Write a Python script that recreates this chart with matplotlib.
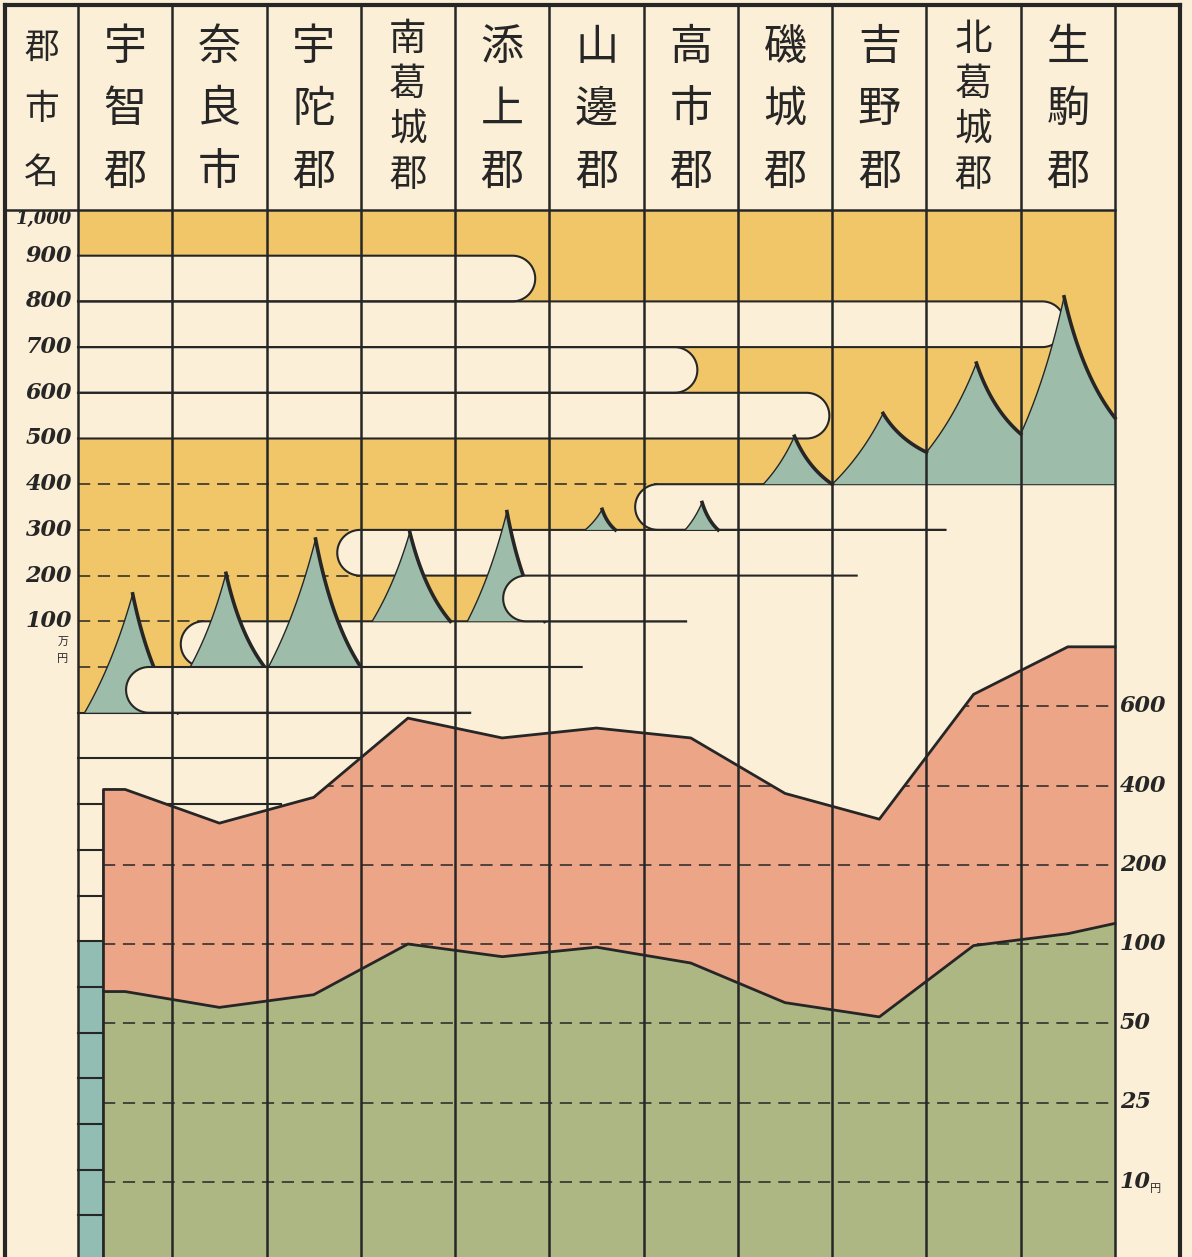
import numpy as np
import matplotlib.pyplot as plt
from matplotlib.patches import Rectangle, Polygon

plt.rcParams['font.family'] = ['Noto Sans CJK JP', 'DejaVu Sans']

# ---------------- data ----------------
header_title = '郡市名'
names = ['宇智郡', '奈良市', '宇陀郡', '南葛城郡', '添上郡', '山邊郡',
         '高市郡', '磯城郡', '吉野郡', '北葛城郡', '生駒郡']

# upper part, in 万円: mountain peaks, their base line, and valley heights at the feet
peak_val = [160, 205, 280, 295, 340, 345, 360, 505, 555, 665, 810]
base_val = [-100, 0, 0, 100, 100, 300, 300, 400, 400, 400, 400]
left_val = [-100, 0, 0, 100, 100, 300, 300, 400, 400, 470, 510]
right_val = [-100, 0, 0, 100, 100, 300, 300, 400, 470, 510, 545]
left_ticks = [1000, 900, 800, 700, 600, 500, 400, 300, 200, 100]
left_labels = ['1,000', '900', '800', '700', '600', '500', '400', '300', '200', '100']

# lower part, in 円
upper_val = [390, 305, 370, 570, 520, 545, 520, 380, 315, 630, 750]
lower_val = [70, 60, 68, 100, 92, 98, 88, 63, 54, 99, 113]
lower_end = 126
right_ticks = [600, 400, 200, 100, 50, 25, 10]
right_labels = ['600', '400', '200', '100', '50', '25', '10']

# ---------------- layout (shapes) ----------------
# white bands with a rounded right end: top level, right end (column units)
up_band_top = [900, 800, 700, 600]
up_band_end = [4.85, 10.47, 6.57, 7.97]
# white bands with a rounded left end
lo_band_top = [400, 300, 200, 100, 0]
lo_band_start = [5.91, 2.75, 4.51, 1.09, 0.51]
lo_band_top_end = [11, 9.2, 8.26, 6.45, 5.34]
lo_band_bot_end = [9.2, 4.51, 6.45, 5.34, 4.16]
lo_band_front = [False, False, True, False, True]
extra_lines = [-100, -200, -300]
extra_ends = [4.16, 3.0, 2.15]
# mountain foot / peak positions inside each column
m_xl = [0.07, 0.19, 0.02, 0.12, 0.13, 0.38, 0.44, 0.27, 0.0, 0.0, 0.0]
m_xp = [0.58, 0.57, 0.52, 0.52, 0.55, 0.56, 0.62, 0.60, 0.54, 0.53, 0.46]
m_xr = [1.06, 0.98, 1.0, 0.95, 0.95, 0.70, 0.79, 1.0, 1.0, 1.0, 1.0]
strip_w = 0.27

cream = '#fcefd7'
yellow = '#f1c669'
mount = '#9dbca9'
pink = '#eda587'
green = '#adb784'
teal = '#92bdb2'
ink = '#262626'
num_font = dict(family='DejaVu Serif', style='italic', weight='bold', color=ink)

W, H = 1192, 1257
L, R = 5, 1180
col_w = (1115 - 78) / 11
xlim = ((L - 78) / col_w, (R - 78) / col_w)
unit_px = 0.457
top_lo = 1000 - (H - 210) / unit_px
rx = 50 * unit_px / col_w

fig = plt.figure(figsize=(W / 100, H / 100), dpi=100)
fig.patch.set_facecolor(cream)


def add_ax(top_px, bot_px, z):
    a = fig.add_axes([L / W, 1 - bot_px / H, (R - L) / W, (bot_px - top_px) / H], zorder=z)
    a.set_xlim(*xlim)
    a.axis('off')
    a.patch.set_visible(False)
    return a


def bez(p0, c, p2, n=40):
    t = np.linspace(0, 1, n)[:, None]
    pts = (1 - t) ** 2 * np.array(p0) + 2 * (1 - t) * t * np.array(c) + t ** 2 * np.array(p2)
    return pts[:, 0], pts[:, 1]


def arc(cx, cy, a0, a1, n=40):
    a = np.radians(np.linspace(a0, a1, n))
    return cx + rx * np.cos(a), cy + 50 * np.sin(a)


# ---------------- upper panel ----------------
ax = add_ax(210, H, 1)
ax.set_ylim(top_lo, 1000)

ax.add_patch(Rectangle((0, 400), 11, 600, fc=yellow, ec='none', zorder=1))
for t, xs in zip(lo_band_top, lo_band_start):
    ax.add_patch(Rectangle((0, t - 100), xs + rx, 100, fc=yellow, ec='none', zorder=1))

# dashed grid inside the yellow
for lvl in lo_band_top:
    ends = [xs for t, xs in zip(lo_band_top, lo_band_start) if t == lvl or t - 100 == lvl]
    ax.plot([0, min(ends) + rx], [lvl, lvl], color=ink, lw=1.1, dashes=(8, 5), zorder=2)

for t, xe in zip(up_band_top, up_band_end):
    axx, ayy = arc(xe - rx, t - 50, 90, -90)
    ox = np.r_[0, axx, 0]
    oy = np.r_[t, ayy, t - 100]
    ax.fill(ox, oy, color=cream, lw=0, zorder=3)
    ax.plot(ox, oy, color=ink, lw=1.5, zorder=3.1)

for t, xs, te, be, front in zip(lo_band_top, lo_band_start, lo_band_top_end,
                                lo_band_bot_end, lo_band_front):
    z = 5 if front else 3
    axx, ayy = arc(xs + rx, t - 50, 90, 270)
    xe = max(te, be)
    ax.fill(np.r_[xe, axx, xe], np.r_[t, ayy, t - 100], color=cream, lw=0, zorder=z)
    ax.plot(np.r_[te, axx, be], np.r_[t, ayy, t - 100], color=ink, lw=1.5, zorder=z + 0.1)

for lvl, xe in zip(extra_lines, extra_ends):
    ax.plot([0, xe], [lvl, lvl], color=ink, lw=1.5, zorder=3.1)

# small scale strip at the left of the lower part
ax.add_patch(Rectangle((0, top_lo), strip_w, -600 - top_lo, fc=teal, ec='none', zorder=1))
for lvl in range(-400, int(top_lo), -100):
    ax.plot([0, strip_w], [lvl, lvl], color=ink, lw=1.5, zorder=3.1)

# mountains
for i in range(11):
    xa, xp, xb = i + m_xl[i], i + m_xp[i], i + m_xr[i]
    ya, yp, yb, y0 = left_val[i], peak_val[i], right_val[i], base_val[i]
    lx, ly = bez((xa, ya), (xa + 0.6 * (xp - xa), ya + 0.42 * (yp - ya)), (xp, yp))
    rxs, rys = bez((xp, yp), (xp + 0.35 * (xb - xp), yb + 0.35 * (yp - yb)), (xb, yb))
    ax.fill(np.r_[xa, lx, rxs, xb], np.r_[y0, ly, rys, y0], color=mount, lw=0, zorder=4)
    ax.plot(lx, ly, color=ink, lw=1.0, zorder=4.2)
    ax.plot(rxs, rys, color=ink, lw=2.6, zorder=4.2)

for v, lab in zip(left_ticks, left_labels):
    ax.text(-0.064, v, lab, ha='right', va='top' if v == 1000 else 'center',
            fontsize=13 if v == 1000 else 16, **num_font)
ax.annotate('万', (-0.16, 100), xytext=(0, -15), textcoords='offset points',
            ha='center', va='center', fontsize=8, color=ink)
ax.annotate('円', (-0.16, 100), xytext=(0, -27), textcoords='offset points',
            ha='center', va='center', fontsize=8, color=ink)

# ---------------- lower panel ----------------
scale_vals = [0, 10, 25, 50, 100, 200, 400, 600, 800]
scale_idx = np.arange(len(scale_vals)) - 1.0


def fwd(v):
    return np.interp(v, scale_vals, scale_idx)


def inv(i):
    return np.interp(i, scale_idx, scale_vals)


axb = add_ax(627, 1261, 10)
axb.set_yscale('function', functions=(fwd, inv))
axb.set_ylim(0, 800)

xs_pts = [strip_w] + [i + 0.5 for i in range(11)] + [11]
up = [upper_val[0]] + upper_val + [upper_val[-1]]
lo = [lower_val[0]] + lower_val + [lower_end]

axb.fill_between(xs_pts, 0, up, color=pink, lw=0, zorder=1)
axb.fill_between(xs_pts, 0, lo, color=green, lw=0, zorder=2)
clip = Polygon(list(zip([strip_w] + xs_pts + [11], [0] + up + [0])), closed=True,
               transform=axb.transData)
for v in right_ticks:
    ln, = axb.plot([strip_w, 11], [v, v], color=ink, lw=1.1, dashes=(8, 5), zorder=3)
    ln.set_clip_path(clip)
axb.plot([strip_w] + xs_pts, [0] + up, color=ink, lw=2.0, zorder=4)
axb.plot(xs_pts, lo, color=ink, lw=2.0, zorder=4)

for v, lab in zip(right_ticks, right_labels):
    axb.text(11.05, v, lab, ha='left', va='center', fontsize=16, **num_font)
axb.annotate('円', (11.05, 10), xytext=(22, -5), textcoords='offset points',
             ha='left', va='center', fontsize=8, color=ink)

# ---------------- header ----------------
axh = add_ax(5, 210, 15)
axh.set_ylim(1, 0)
pos3 = [0.21, 0.51, 0.82]
pos4 = [0.17, 0.39, 0.61, 0.83]
for ch, y in zip(header_title, pos3):
    axh.text(xlim[0] / 2, y, ch, ha='center', va='center', fontsize=25, color=ink)
for i, name in enumerate(names):
    pos = pos3 if len(name) == 3 else pos4
    fs = 31 if len(name) == 3 else 27
    for ch, y in zip(name, pos):
        axh.text(i + 0.5, y, ch, ha='center', va='center', fontsize=fs, color=ink)
axh.plot([xlim[0], 11], [1, 1], color=ink, lw=1.8, clip_on=False)

# ---------------- frame and column rules ----------------
axf = fig.add_axes([L / W, 0, (R - L) / W, (H - 5) / H], zorder=20)
axf.set_xlim(*xlim)
axf.set_ylim(0, 1)
axf.patch.set_visible(False)
axf.set_xticks([])
axf.set_yticks([])
axf.spines['bottom'].set_visible(False)
for s in ['left', 'top', 'right']:
    axf.spines[s].set_linewidth(3)
    axf.spines[s].set_color(ink)
axf.vlines(range(12), 0, 1, color=ink, lw=1.8)

fig.savefig('out.png', dpi=100, facecolor=cream)
